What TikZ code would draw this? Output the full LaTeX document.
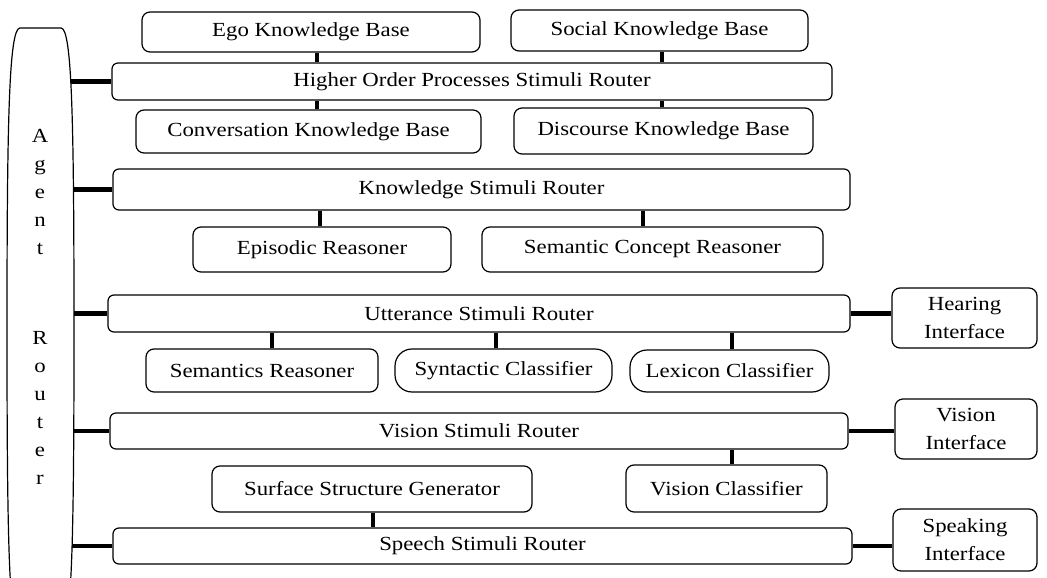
\documentclass[tikz,border=0pt]{standalone}
\usepackage{fontspec}
\setmainfont{Liberation Serif}[FakeStretch=1.14]
\usetikzlibrary{backgrounds}
\begin{document}
\begin{tikzpicture}[x=1pt,y=-1pt,
  font=\fontsize{20}{28}\selectfont,
  box/.style={draw, line width=1.2pt, fill=white, rounded corners=8pt, inner sep=0pt, align=center},
  router/.style={box, rounded corners=6pt},
  pill/.style={box, rounded corners=17pt},
  link/.style={line width=4.6pt},
  letter/.style={anchor=base, inner sep=0pt}]
\useasboundingbox (0,0) rectangle (1047,578);

% agent router column (outline drawn below)
\node[minimum width=67pt, minimum height=592pt, inner sep=0pt] (agent) at (40.5,324) {};

% higher order layer
\node[box, minimum width=338pt, minimum height=40pt] (ego) at (311,32) {Ego Knowledge Base};
\node[box, minimum width=297pt, minimum height=41pt] (social) at (659.5,30.5) {Social Knowledge Base};
\node[router, minimum width=720pt, minimum height=37pt] (horouter) at (472,81.5) {Higher Order Processes Stimuli Router};
\node[box, minimum width=345pt, minimum height=43pt] (conv) at (308.5,131.5) {Conversation Knowledge Base};
\node[box, minimum width=299pt, minimum height=46pt] (disc) at (663.5,131) {Discourse Knowledge Base};

% knowledge layer
\node[router, minimum width=737pt, minimum height=41pt] (krouter) at (481.5,189.5) {Knowledge Stimuli Router};
\node[box, minimum width=258pt, minimum height=45pt] (epis) at (322,249.5) {Episodic Reasoner};
\node[box, minimum width=341pt, minimum height=45pt] (semc) at (652.5,249.5) {Semantic Concept Reasoner};

% utterance layer
\node[router, minimum width=742pt, minimum height=37pt] (urouter) at (479,313.5) {Utterance Stimuli Router};
\node[box, minimum width=145pt, minimum height=60pt] (hearing) at (964.5,318) {Hearing\\Interface};
\node[box, minimum width=232pt, minimum height=43pt] (sem) at (262,370.5) {Semantics Reasoner};
\node[pill, minimum width=217pt, minimum height=43pt] (syn) at (503.5,370.5) {Syntactic Classifier};
\node[pill, minimum width=199pt, minimum height=42pt] (lex) at (729.5,371) {Lexicon Classifier};

% vision layer
\node[router, minimum width=738pt, minimum height=36pt] (vrouter) at (479,431) {Vision Stimuli Router};
\node[box, minimum width=142pt, minimum height=60pt] (vision) at (966,429) {Vision\\Interface};
\node[box, minimum width=320pt, minimum height=46pt] (ssg) at (372,489) {Surface Structure Generator};
\node[box, minimum width=201pt, minimum height=47pt] (vclass) at (726.5,488.5) {Vision Classifier};

% speech layer
\node[router, minimum width=739pt, minimum height=36pt] (srouter) at (482.5,546) {Speech Stimuli Router};
\node[box, minimum width=144pt, minimum height=62pt] (speaking) at (965,540) {Speaking\\Interface};

\begin{pgfonlayer}{background}
  % vertical links between knowledge bases, reasoners and routers
  \draw[link] ([xshift=6pt]ego.south) -- ([xshift=6pt]ego.south |- horouter.north);
  \draw[link] ([xshift=2.5pt]social.south) -- ([xshift=2.5pt]social.south |- horouter.north);
  \draw[link] ([xshift=8.5pt]conv.north) -- ([xshift=8.5pt]conv.north |- horouter.south);
  \draw[link] ([xshift=-1.5pt]disc.north) -- ([xshift=-1.5pt]disc.north |- horouter.south);
  \draw[link] ([xshift=-2pt]epis.north) -- ([xshift=-2pt]epis.north |- krouter.south);
  \draw[link] ([xshift=-9.5pt]semc.north) -- ([xshift=-9.5pt]semc.north |- krouter.south);
  \draw[link] ([xshift=10pt]sem.north) -- ([xshift=10pt]sem.north |- urouter.south);
  \draw[link] ([xshift=-7.5pt]syn.north) -- ([xshift=-7.5pt]syn.north |- urouter.south);
  \draw[link] ([xshift=2.5pt]lex.north) -- ([xshift=2.5pt]lex.north |- urouter.south);
  \draw[link] ([xshift=5.5pt]vclass.north) -- ([xshift=5.5pt]vclass.north |- vrouter.south);
  \draw[link] ([xshift=1pt]ssg.south) -- ([xshift=1pt]ssg.south |- srouter.north);
  % links from the agent router to each stimuli router
  \foreach \r in {horouter,krouter,urouter,vrouter,srouter}
    \draw[link] (agent.center |- \r.west) -- (\r.west);
  % links from the routers to the interfaces
  \draw[link] (urouter.east) -- (hearing.west |- urouter.east);
  \draw[link] (vrouter.east) -- (vision.west |- vrouter.east);
  \draw[link] (srouter.east) -- (speaking.west |- srouter.east);
\end{pgfonlayer}

% agent router outline
\draw[line width=1.2pt, fill=white]
  (7,330) .. controls (7,120) and (9,28) .. (20,28) -- (61,28)
  .. controls (72,28) and (74,120) .. (74,330)
  .. controls (74,540) and (72,632) .. (61,632) -- (20,632)
  .. controls (9,632) and (7,540) .. (7,330) -- cycle;

% vertical label of the agent router
\foreach \ch [count=\i] in {A,g,e,n,t}
  \node[letter] (ag\i) at (40,142+28*\i-28) {\ch};
\foreach \ch [count=\i] in {R,o,u,t,e,r}
  \node[letter] (ro\i) at (40,344+28*\i-28) {\ch};
\end{tikzpicture}
\end{document}
